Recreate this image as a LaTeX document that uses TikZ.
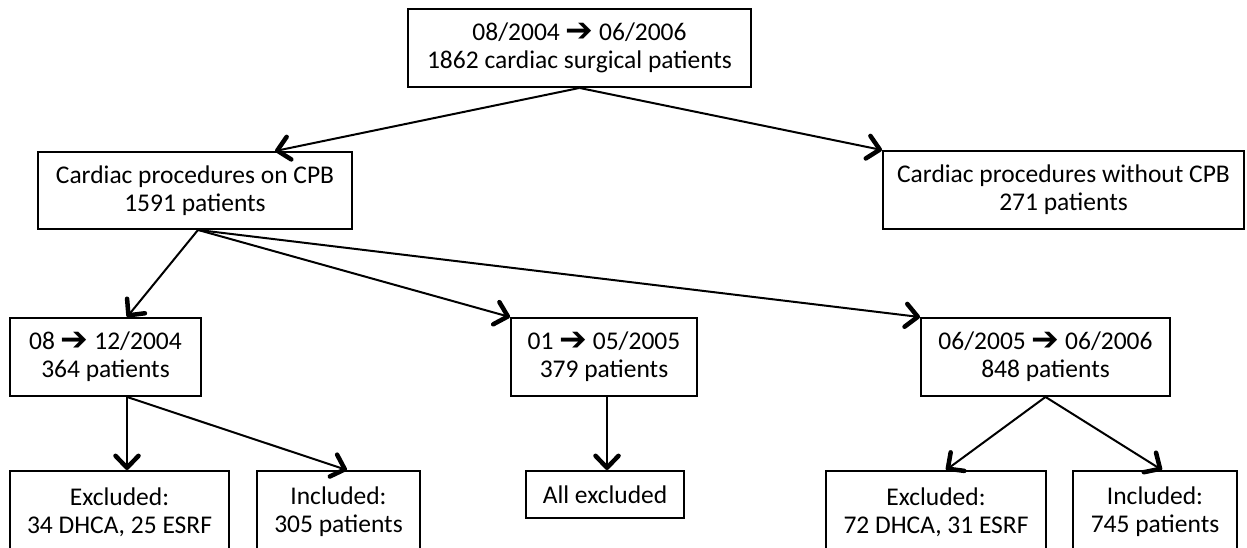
\documentclass[tikz,border=0pt]{standalone}
\usepackage{fontspec}
\usepackage{graphicx}
\setmainfont{Carlito}
\newfontfamily\symfont{DejaVu Sans}
\usetikzlibrary{arrows.meta,calc}
\newcommand{\rarr}{\raisebox{-0.5pt}{\scalebox{1.3}{\symfont\bfseries ➔}}}
\begin{document}
\begin{tikzpicture}[x=1pt,y=-1pt,
  box/.style={draw=black,line width=1.9pt,inner sep=0pt,align=center,
     font=\fontsize{25.5}{28}\selectfont},
  conn/.style={line width=2pt,-{Straight Barb[length=12pt,width=23pt,line width=4.5pt 0,round]}}]
\useasboundingbox (0,0) rectangle (1247,548);
\clip (0,0) rectangle (1247,548);
\fill[white] (0,0) rectangle (1247,548);
\node[box,minimum width=343,minimum height=78] (top) at (579.5,48) {08/2004 \rarr\ 06/2006\\1862 cardiac surgical patients};
\node[box,minimum width=314,minimum height=77] (cpb) at (195,190.5) {Cardiac procedures on CPB\\1591 patients};
\node[box,minimum width=361,minimum height=78] (nocpb) at (1063.5,190) {Cardiac procedures without CPB\\271 patients};
\node[box,minimum width=191,minimum height=78] (p1) at (105.5,357) {08 \rarr\ 12/2004\\364 patients};
\node[box,minimum width=186,minimum height=78] (p2) at (604,357) {01 \rarr\ 05/2005\\379 patients};
\node[box,minimum width=249,minimum height=78] (p3) at (1045.5,357) {06/2005 \rarr\ 06/2006\\848 patients};
\node[box,minimum width=219,minimum height=82] (ex1) at (119.5,512) {Excluded:\\34 DHCA, 25 ESRF};
\node[box,minimum width=163,minimum height=82] (in1) at (338.5,512) {Included:\\305 patients};
\node[box,minimum width=158,minimum height=47] (all) at (605,494.5) {All excluded};
\node[box,minimum width=220,minimum height=82] (ex2) at (936,512) {Excluded:\\72 DHCA, 31 ESRF};
\node[box,minimum width=164,minimum height=82] (in2) at (1155,512) {Included:\\745 patients};
\draw[conn] (top.south) -- ([xshift=80pt]cpb.north);
\draw[conn] (top.south) -- (nocpb.north west);
\draw[conn] ([xshift=3pt]cpb.south) -- ([xshift=21.5pt]p1.north);
\draw[conn] ([xshift=3pt]cpb.south) -- (p2.north west);
\draw[conn] ([xshift=3pt]cpb.south) -- (p3.north west);
\draw[conn] ([xshift=21.5pt]p1.south) -- ([xshift=7.5pt]ex1.north);
\draw[conn] ([xshift=21.5pt]p1.south) -- ([xshift=8.5pt]in1.north);
\draw[conn] ([xshift=3pt]p2.south) -- ([xshift=2pt]all.north);
\draw[conn] (p3.south) -- ([xshift=10pt]ex2.north);
\draw[conn] (p3.south) -- ([xshift=7pt]in2.north);
\end{tikzpicture}
\end{document}
